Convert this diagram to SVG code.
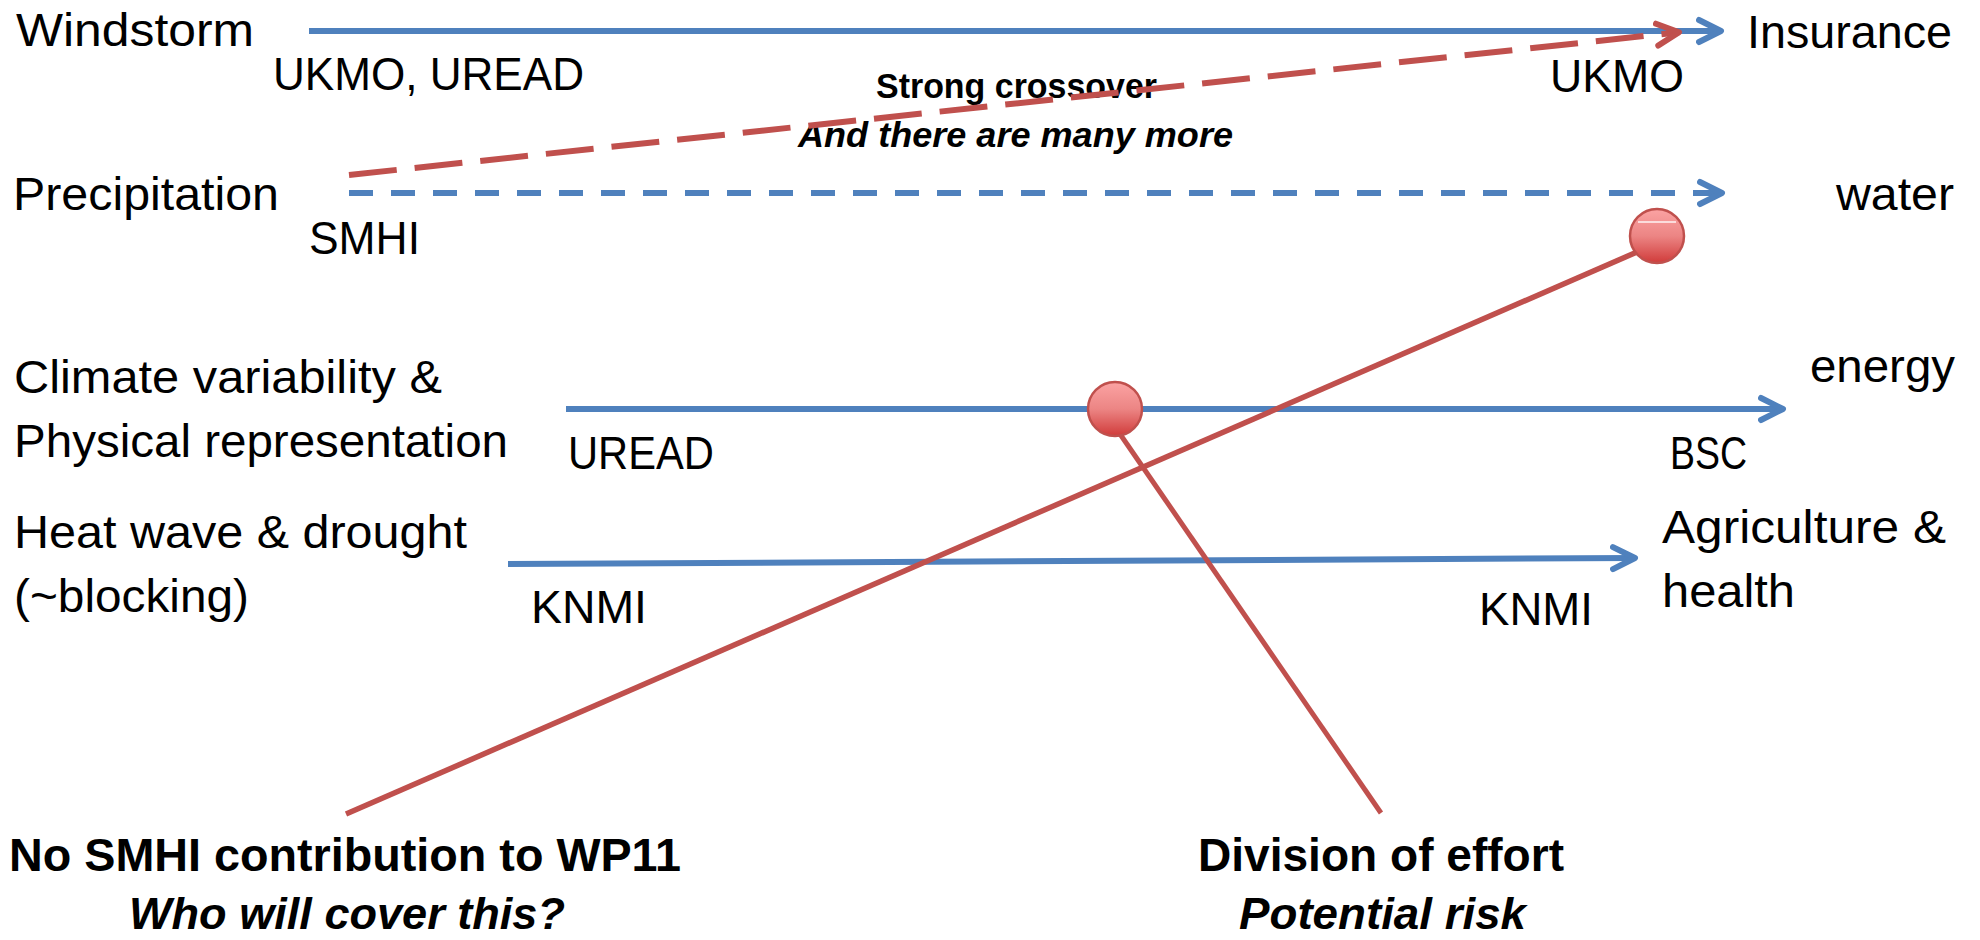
<svg xmlns="http://www.w3.org/2000/svg" width="1980" height="940" viewBox="0 0 1980 940">
<style>
text{font-family:"Liberation Sans",Arial,sans-serif;fill:#000;}
.n{font-size:46px;}
.b{font-size:46px;font-weight:bold;}
.bi{font-size:45px;font-weight:bold;font-style:italic;}
.sb{font-size:35px;font-weight:bold;}
.sbi{font-size:35px;font-weight:bold;font-style:italic;}
.blue{stroke:#4F81BD;stroke-width:6;fill:none;}
.red{stroke:#C0504D;fill:none;}
.ball{fill:url(#ballg);stroke:#C0504D;stroke-width:2.5;}
</style>
<defs>
<marker id="ab" viewBox="0 0 30 30" refX="25" refY="15" markerWidth="30" markerHeight="30" markerUnits="userSpaceOnUse" orient="auto">
<path d="M3,4 L25,15 L3,26" fill="none" stroke="#4F81BD" stroke-width="6" stroke-linecap="round" stroke-linejoin="round"/>
</marker>
<marker id="ar" viewBox="0 0 30 30" refX="25" refY="15" markerWidth="30" markerHeight="30" markerUnits="userSpaceOnUse" orient="auto">
<path d="M3,4 L25,15 L3,26" fill="none" stroke="#C0504D" stroke-width="6" stroke-linecap="round" stroke-linejoin="round"/>
</marker>
<linearGradient id="ballg" x1="0" y1="0" x2="0" y2="1">
<stop offset="0" stop-color="#FBA3A3"/>
<stop offset="0.5" stop-color="#EC8584"/>
<stop offset="1" stop-color="#D03B3A"/>
</linearGradient>
</defs>

<g id="labels">
<g id="windstorm"><text class="n" x="16" y="46" textLength="238" lengthAdjust="spacingAndGlyphs">Windstorm</text></g>
<g id="ukmo-uread"><text class="n" x="273" y="90" textLength="311" lengthAdjust="spacingAndGlyphs">UKMO, UREAD</text></g>
<g id="crossover">
<text class="sb" x="876" y="98" textLength="281" lengthAdjust="spacingAndGlyphs">Strong crossover</text>
<text class="sbi" x="798" y="147" textLength="435" lengthAdjust="spacingAndGlyphs">And there are many more</text>
</g>
<g id="insurance"><text class="n" x="1747" y="48" textLength="205" lengthAdjust="spacingAndGlyphs">Insurance</text></g>
<g id="ukmo"><text class="n" x="1550" y="92" textLength="134" lengthAdjust="spacingAndGlyphs">UKMO</text></g>
<g id="precipitation"><text class="n" x="13" y="210" textLength="266" lengthAdjust="spacingAndGlyphs">Precipitation</text></g>
<g id="smhi"><text class="n" x="309" y="254" textLength="111" lengthAdjust="spacingAndGlyphs">SMHI</text></g>
<g id="water"><text class="n" x="1836" y="210" textLength="118" lengthAdjust="spacingAndGlyphs">water</text></g>
<g id="climate">
<text class="n" x="14" y="393" textLength="428" lengthAdjust="spacingAndGlyphs">Climate variability &amp;</text>
<text class="n" x="14" y="457" textLength="494" lengthAdjust="spacingAndGlyphs">Physical representation</text>
</g>
<g id="uread"><text class="n" x="568" y="469" textLength="146" lengthAdjust="spacingAndGlyphs">UREAD</text></g>
<g id="energy"><text class="n" x="1810" y="382" textLength="145" lengthAdjust="spacingAndGlyphs">energy</text></g>
<g id="bsc"><text class="n" x="1670" y="469" textLength="77" lengthAdjust="spacingAndGlyphs">BSC</text></g>
<g id="heatwave">
<text class="n" x="14" y="548" textLength="453" lengthAdjust="spacingAndGlyphs">Heat wave &amp; drought</text>
<text class="n" x="14" y="612" textLength="235" lengthAdjust="spacingAndGlyphs">(~blocking)</text>
</g>
<g id="knmi-left"><text class="n" x="531" y="623" textLength="116" lengthAdjust="spacingAndGlyphs">KNMI</text></g>
<g id="agriculture">
<text class="n" x="1662" y="543" textLength="284" lengthAdjust="spacingAndGlyphs">Agriculture &amp;</text>
<text class="n" x="1662" y="607" textLength="133" lengthAdjust="spacingAndGlyphs">health</text>
</g>
<g id="knmi-right"><text class="n" x="1479" y="625" textLength="114" lengthAdjust="spacingAndGlyphs">KNMI</text></g>
<g id="no-smhi">
<text class="b" x="9" y="871" textLength="672" lengthAdjust="spacingAndGlyphs">No SMHI contribution to WP11</text>
<text class="bi" x="129" y="929" textLength="436" lengthAdjust="spacingAndGlyphs">Who will cover this?</text>
</g>
<g id="division">
<text class="b" x="1198" y="871" textLength="366" lengthAdjust="spacingAndGlyphs">Division of effort</text>
<text class="bi" x="1239" y="929" textLength="287" lengthAdjust="spacingAndGlyphs">Potential risk</text>
</g>
</g>

<g id="connectors">
<line class="blue" x1="309" y1="31" x2="1721" y2="31" marker-end="url(#ab)"/>
<line class="blue" x1="349" y1="193" x2="1722" y2="193" stroke-dasharray="24 18" marker-end="url(#ab)"/>
<line class="blue" x1="566" y1="409" x2="1783" y2="409" marker-end="url(#ab)"/>
<line class="blue" x1="508" y1="564" x2="1635" y2="558" marker-end="url(#ab)"/>
<line class="red" x1="349" y1="175" x2="1679" y2="32.3" stroke-width="6" stroke-dasharray="48 18" marker-end="url(#ar)"/>
<line class="red" x1="346" y1="814" x2="1637" y2="252" stroke-width="5.5"/>
<line class="red" x1="1120" y1="434" x2="1381" y2="813" stroke-width="5"/>
</g>

<g id="ball-water">
<circle class="ball" cx="1657" cy="236" r="27"/>
<line x1="1638" y1="222" x2="1676" y2="222" stroke="#FFFFFF" stroke-width="1.5" opacity="0.9"/>
</g>
<g id="ball-energy">
<circle class="ball" cx="1115" cy="409" r="27"/>
</g>
</svg>
